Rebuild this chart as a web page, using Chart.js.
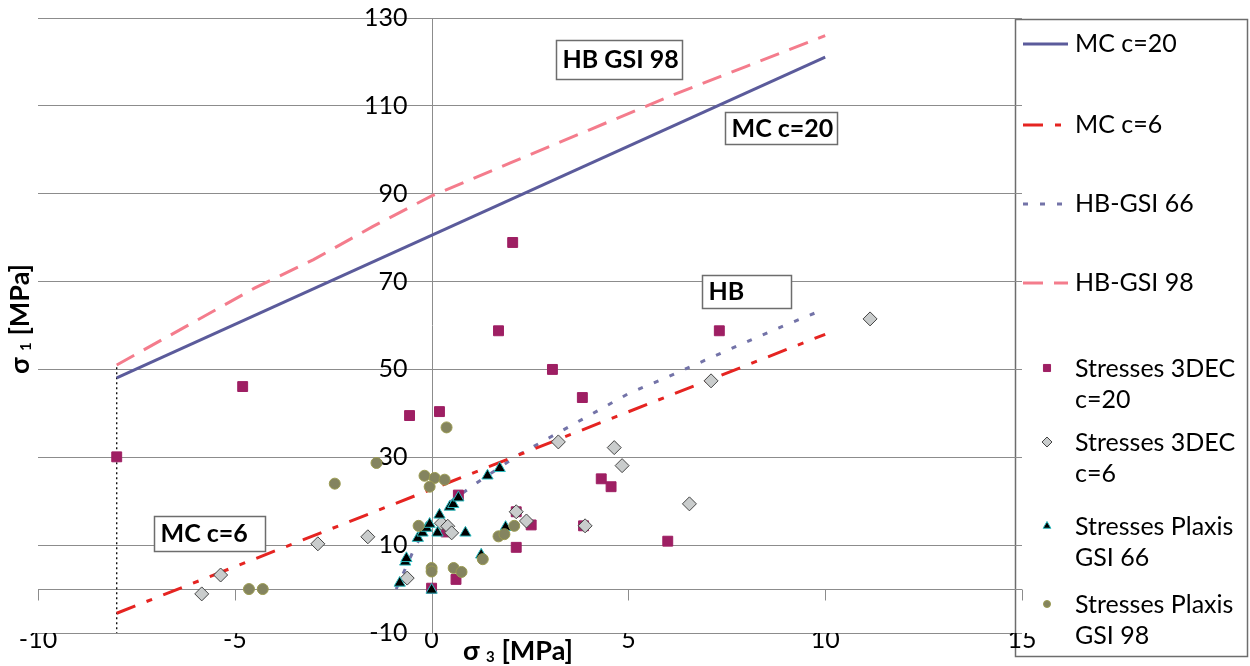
<!DOCTYPE html>
<html>
<head>
<meta charset="utf-8">
<script src="https://cdn.jsdelivr.net/npm/chart.js@4.4.0/dist/chart.umd.min.js"></script>
<style>
  html, body { margin: 0; padding: 0; background: #fff; }
  #wrap { width: 1250px; height: 666px; }
</style>
</head>
<body>
<div id="wrap"><canvas id="chart" width="1250" height="666"></canvas></div>
<script>
// axis ticks
const xTicks = [-10, -5, 0, 5, 10, 15];
const yTicks = [-10, 10, 30, 50, 70, 90, 110, 130];

// failure envelopes (sigma3 -> sigma1, MPa)
const mcC20X = [-8, 10];
const mcC20Y = [48.1, 121.1];
const mcC6X = [-8, 10];
const mcC6Y = [-5.5, 58];
const hb66X = [-0.9, -0.6, -0.4, 0, 0.5, 1.2, 2.2, 3, 4.3, 5, 6, 7.3, 8.7, 10];
const hb66Y = [0, 6, 10, 15.5, 20, 24.5, 30.5, 34.5, 41, 44.5, 48.3, 53.5, 59, 63.8];
const hb98X = [-8, -6, -4.5, -3, -1.5, 0, 2, 4, 6, 8, 10];
const hb98Y = [51, 61, 68.5, 75, 82.5, 89.5, 97, 104.5, 112, 119, 126];
const cutoffX = [-8, -8];
const cutoffY = [50.5, -10];

// stresses
const dec20X = [-8, -4.8, -0.56, 0.2, 1.7, 2.06, 3.07, 3.83, 7.31, 4.31, 4.56, 2.15, 2.53, 2.15, 3.86, 6.0, 0.68, 0.62, 0, 0.37];
const dec20Y = [30.1, 46.1, 39.5, 40.4, 58.8, 78.9, 50, 43.6, 58.8, 25.1, 23.3, 17.6, 14.6, 9.5, 14.4, 10.9, 21.4, 2.2, 0.2, 13];
const dec6X = [-5.84, -5.36, -2.89, -1.62, -0.62, 0.25, 0.41, 0.51, 2.15, 2.41, 3.22, 3.9, 4.64, 4.84, 6.55, 7.1, 11.14];
const dec6Y = [-1.1, 3.2, 10.3, 11.9, 2.5, 15, 14.3, 12.8, 17.6, 15.5, 33.5, 14.4, 32.2, 28.1, 19.4, 47.4, 61.5];
const plx66X = [0, -0.81, -0.67, -0.64, -0.35, -0.23, -0.13, -0.05, 0.15, 0.2, 0.46, 0.55, 0.68, 0.86, 1.42, 1.73, 1.88, 1.26];
const plx66Y = [-0.2, 1.4, 6.2, 7, 11.6, 12.8, 13.9, 14.8, 12.8, 16.9, 18.7, 19.3, 20.8, 12.8, 25.8, 27.5, 14.1, 7.8];
const plx98X = [-4.64, -4.29, -2.46, -1.4, -0.18, 0.08, 0.33, -0.05, 0.38, -0.33, 0, 0, 0.56, 0.76, 1.3, 1.7, 1.85, 2.1];
const plx98Y = [0, 0, 24, 28.7, 25.8, 25.3, 24.9, 23.3, 36.8, 14.4, 4.8, 4, 4.8, 3.9, 6.8, 12, 12.5, 14.4];

// text boxes on the plot (centre in data units)
const notes = [
    { text: 'HB GSI 98', x: 4.75, y: 120.6, w: 126, h: 39 },
    { text: 'MC c=20', x: 8.88, y: 104.9, w: 112, h: 32 },
    { text: 'HB', x: 8.01, y: 67.8, w: 89, h: 33 },
    { text: 'MC c=6', x: -5.65, y: 12.7, w: 111, h: 35 }
];

const FONT = 'Lato, "Open Sans", sans-serif';
const GRID = '#8c8c8c';

function pts(xs, ys) {
    return xs.map((x, i) => ({ x: x, y: ys[i] }));
}

function lineSet(label, xs, ys, color, dash, width) {
    return {
        label: label, data: pts(xs, ys), showLine: true,
        borderColor: color, backgroundColor: color, borderWidth: width || 3,
        borderDash: dash, pointRadius: 0, order: 10, tension: 0
    };
}

function pointSet(label, xs, ys, style, fill, edge, radius, order) {
    return {
        label: label, data: pts(xs, ys), showLine: false,
        pointStyle: style, pointRadius: radius, pointBackgroundColor: fill,
        pointBorderColor: edge, pointBorderWidth: 1, order: order,
        backgroundColor: fill, borderColor: edge
    };
}

const datasets = [
    lineSet('MC c=20', mcC20X, mcC20Y, '#5b5b9b', [], 3),
    lineSet('MC c=6', mcC6X, mcC6Y, '#e52421', [20, 12, 6, 12], 3),
    lineSet('HB-GSI 66', hb66X, hb66Y, '#7373a8', [5, 12], 3),
    lineSet('HB-GSI 98', hb98X, hb98Y, '#f47c8c', [20, 11], 3),
    pointSet('Stresses 3DEC\nc=20', dec20X, dec20Y, 'rect', '#9e1f63', '#9e1f63', 7, 4),
    pointSet('Stresses 3DEC\nc=6', dec6X, dec6Y, 'rectRot', '#c9cccc', '#444444', 7, 3),
    pointSet('Stresses Plaxis\nGSI 66', plx66X, plx66Y, 'triangle', '#000000', '#2bbcc0', 6.5, 2),
    pointSet('Stresses Plaxis\nGSI 98', plx98X, plx98Y, 'circle', '#84845f', '#9a9a50', 5.5, 1)
];
const cutoff = lineSet('', cutoffX, cutoffY, '#000000', [2, 3], 1.3);
cutoff.hideInLegend = true;
datasets.push(cutoff);

// legend slots (y of first text line)
const legendSlots = [44, 125, 204, 283, 369, 443, 527, 605];

function noPad(s) {
    s.paddingTop = 0;
    s.paddingBottom = 0;
    s.paddingLeft = 0;
    s.paddingRight = 0;
}

const decor = {
    id: 'decor',
    beforeDraw(chart) {
        // legend box (drawn first so the "15" tick label sits over its edge)
        const ctx = chart.ctx;
        ctx.save();
        const bx = 1015.5, by = 19.5, bw = 232, bh = 637;
        ctx.fillStyle = '#fff';
        ctx.fillRect(bx, by, bw, bh);
        ctx.strokeStyle = '#6d6d6d';
        ctx.lineWidth = 1.5;
        ctx.strokeRect(bx, by, bw, bh);

        ctx.font = '25px ' + FONT;
        ctx.textBaseline = 'middle';
        ctx.textAlign = 'left';
        let slot = 0;
        chart.data.datasets.forEach(ds => {
            if (ds.hideInLegend) return;
            const y = legendSlots[slot++];
            if (ds.showLine) {
                ctx.save();
                ctx.strokeStyle = ds.borderColor;
                ctx.lineWidth = ds.borderWidth;
                ctx.setLineDash(ds.borderDash || []);
                ctx.beginPath();
                ctx.moveTo(1023, y);
                ctx.lineTo(1068, y);
                ctx.stroke();
                ctx.restore();
            } else {
                ctx.save();
                ctx.fillStyle = ds.pointBackgroundColor;
                ctx.strokeStyle = ds.pointBorderColor;
                ctx.lineWidth = 1;
                Chart.helpers.drawPoint(ctx, { pointStyle: ds.pointStyle, radius: ds.pointRadius - 2, rotation: 0, borderWidth: 1 }, 1047, y - 1);
                ctx.restore();
            }
            ctx.fillStyle = '#000';
            ds.label.split('\n').forEach((line, i) => {
                ctx.fillText(line, 1075, y + i * 31);
            });
        });
        ctx.restore();
    },
    beforeDatasetsDraw(chart) {
        const ctx = chart.ctx;
        const xs = chart.scales.x, ys = chart.scales.y;
        ctx.save();
        ctx.strokeStyle = GRID;
        ctx.lineWidth = 1;
        ctx.beginPath();
        // vertical axis line at sigma3 = 0
        const x0 = Math.round(xs.getPixelForValue(0)) + 0.5;
        ctx.moveTo(x0, chart.chartArea.top);
        ctx.lineTo(x0, chart.chartArea.bottom);
        // horizontal axis crossing at sigma1 = 0, with tick marks
        const y0 = Math.round(ys.getPixelForValue(0)) + 0.5;
        ctx.moveTo(xs.getPixelForValue(xTicks[0]), y0);
        ctx.lineTo(xs.getPixelForValue(xTicks[xTicks.length - 1]), y0);
        xTicks.forEach(v => {
            const px = Math.round(xs.getPixelForValue(v)) + 0.5;
            ctx.moveTo(px, y0);
            ctx.lineTo(px, y0 + 11);
        });
        ctx.stroke();
        ctx.restore();
    },
    afterDatasetsDraw(chart) {
        const ctx = chart.ctx;
        const xs = chart.scales.x, ys = chart.scales.y;
        ctx.save();
        ctx.font = 'bold 25px ' + FONT;
        ctx.textBaseline = 'middle';
        ctx.textAlign = 'left';
        notes.forEach(n => {
            const cx = xs.getPixelForValue(n.x), cy = ys.getPixelForValue(n.y);
            const left = Math.round(cx - n.w / 2) + 0.5, top = Math.round(cy - n.h / 2) + 0.5;
            ctx.fillStyle = '#fff';
            ctx.fillRect(left, top, n.w, n.h);
            ctx.strokeStyle = '#6d6d6d';
            ctx.lineWidth = 1.5;
            ctx.strokeRect(left, top, n.w, n.h);
            ctx.fillStyle = '#000';
            ctx.fillText(n.text, left + 6, cy + 1);
        });
        ctx.restore();
    },
    afterDraw(chart) {
        const ctx = chart.ctx;
        // axis titles with subscript
        function title(parts, cx, cy, rot) {
            ctx.save();
            ctx.translate(cx, cy);
            ctx.rotate(rot);
            let total = 0;
            parts.forEach(p => { ctx.font = 'bold ' + p.size + 'px ' + FONT; total += ctx.measureText(p.t).width; });
            let x = -total / 2;
            ctx.fillStyle = '#000';
            ctx.textBaseline = 'middle';
            ctx.textAlign = 'left';
            parts.forEach(p => {
                ctx.font = 'bold ' + p.size + 'px ' + FONT;
                ctx.fillText(p.t, x, p.dy);
                x += ctx.measureText(p.t).width;
            });
            ctx.restore();
        }
        title([{ t: 'σ ', size: 27, dy: 0 }, { t: '3', size: 15, dy: 6 }, { t: ' [MPa]', size: 27, dy: 0 }], 518, 651, 0);
        title([{ t: 'σ ', size: 27, dy: 0 }, { t: '1', size: 15, dy: 6 }, { t: ' [MPa]', size: 27, dy: 0 }], 20, 319, -Math.PI / 2);
    }
};

new Chart(document.getElementById('chart'), {
    type: 'scatter',
    data: { datasets: datasets },
    options: {
        responsive: false,
        animation: false,
        layout: { padding: { left: 38, right: 228, top: 18, bottom: 0 } },
        plugins: { legend: { display: false }, tooltip: { enabled: false } },
        scales: {
            x: {
                type: 'linear', position: 'bottom', min: -10, max: 15,
                afterBuildTicks: s => { s.ticks = xTicks.map(v => ({ value: v })); },
                afterFit: s => { s.height = 33; noPad(s); },
                grid: { display: false, drawTicks: false },
                border: { display: false },
                ticks: { padding: -8, color: '#000', autoSkip: false, maxRotation: 0, font: { family: FONT, size: 25 } }
            },
            y: {
                // labels sit a little left of the sigma3 = 0 axis line
                type: 'linear', position: { x: -0.61 }, min: -10, max: 130,
                afterBuildTicks: s => { s.ticks = yTicks.map(v => ({ value: v })); },
                afterFit: noPad,
                grid: { color: GRID, lineWidth: 1, drawTicks: false },
                border: { display: false },
                ticks: { padding: 0, color: '#000', font: { family: FONT, size: 25 } }
            }
        }
    },
    plugins: [decor]
});
</script>
</body>
</html>
